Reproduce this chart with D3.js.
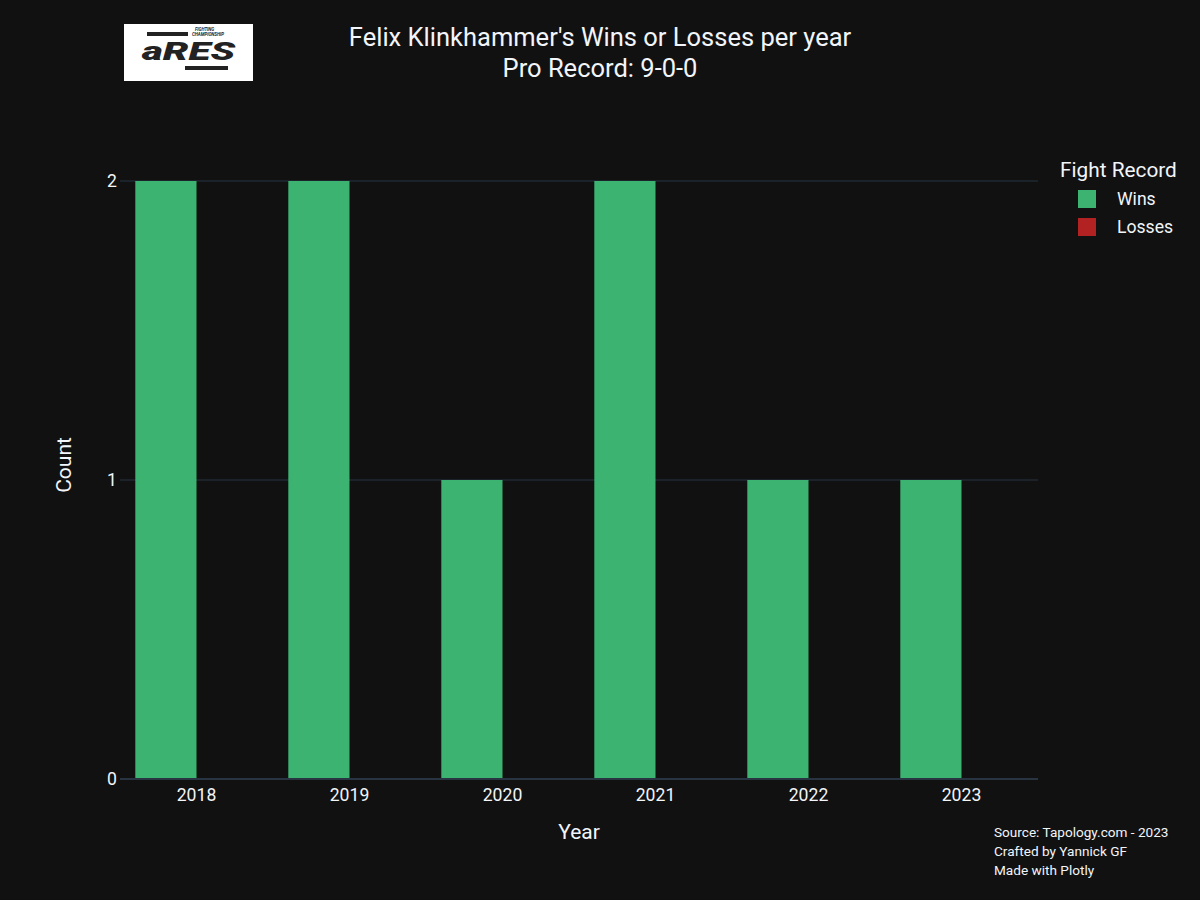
<!DOCTYPE html>
<html><head><meta charset="utf-8">
<script src="https://cdn.jsdelivr.net/npm/d3@7"></script>
<style>body{margin:0;background:#111111;}svg{display:block;font-family:Roboto,"Open Sans",sans-serif;}</style>
</head><body>
<svg id="c" width="1200" height="900"></svg>
<script>
const years = ["2018","2019","2020","2021","2022","2023"];
const wins = [2,2,1,2,1,1];
const losses = [0,0,0,0,0,0];
const seriesNames = ["Wins","Losses"];
const seriesColors = ["#3cb371","#b22222"];
const yTicks = [0,1,2];

const svg = d3.select("#c");
svg.append("rect").attr("width",1200).attr("height",900).attr("fill","#111111");

const m = {l:120, r:1038, t:181, b:779};
const x = d3.scaleBand().domain(years).range([m.l, m.r]).paddingInner(0.2).paddingOuter(0.1);
const xs = d3.scaleBand().domain(seriesNames).range([0, x.bandwidth()]);
const y = d3.scaleLinear().domain([0,2]).range([m.b, m.t]);
const txt = "#f2f5fa";

// grid
svg.append("g").selectAll("line").data(yTicks.filter(d=>d!==0)).join("line")
  .attr("x1",m.l).attr("x2",m.r).attr("y1",d=>y(d)).attr("y2",d=>y(d))
  .attr("stroke","#283442").attr("stroke-width",1);

// bars
const data = [];
years.forEach((yr,i)=>{ data.push({yr, s:"Wins", v:wins[i], c:seriesColors[0]}); data.push({yr, s:"Losses", v:losses[i], c:seriesColors[1]}); });
svg.append("g").selectAll("rect").data(data).join("rect")
  .attr("x",d=>x(d.yr)+xs(d.s)).attr("width",xs.bandwidth())
  .attr("y",d=>y(d.v)).attr("height",d=>y(0)-y(d.v)).attr("fill",d=>d.c);

// zero line
svg.append("line").attr("x1",m.l).attr("x2",m.r).attr("y1",y(0)).attr("y2",y(0))
  .attr("stroke","#283442").attr("stroke-width",2);

// y tick labels
svg.append("g").selectAll("text").data(yTicks).join("text")
  .attr("x",m.l-3).attr("y",d=>y(d)).attr("dy","0.36em").attr("text-anchor","end")
  .attr("fill",txt).attr("font-size",17.6).text(d=>d);

// x tick labels
svg.append("g").selectAll("text").data(years).join("text")
  .attr("x",d=>x(d)+x.bandwidth()/2).attr("y",801).attr("text-anchor","middle")
  .attr("fill",txt).attr("font-size",17.6).text(d=>d);

// axis titles
svg.append("text").attr("x",579).attr("y",839).attr("text-anchor","middle").attr("fill",txt).attr("font-size",21).text("Year");
svg.append("text").attr("transform","translate(71,465) rotate(-90)").attr("text-anchor","middle").attr("fill",txt).attr("font-size",21).text("Count");

// title
svg.append("text").attr("x",600).attr("y",46).attr("text-anchor","middle").attr("fill",txt).attr("font-size",25.5).text("Felix Klinkhammer's Wins or Losses per year");
svg.append("text").attr("x",600).attr("y",77).attr("text-anchor","middle").attr("fill",txt).attr("font-size",25.5).text("Pro Record: 9-0-0");

// legend
svg.append("text").attr("x",1060).attr("y",177).attr("fill",txt).attr("font-size",20.8).text("Fight Record");
const lg = svg.append("g").selectAll("g").data(seriesNames).join("g").attr("transform",(d,i)=>`translate(1078,${190+i*28})`);
lg.append("rect").attr("width",18).attr("height",18).attr("fill",(d,i)=>seriesColors[i]);
lg.append("text").attr("x",39).attr("y",15).attr("fill",txt).attr("font-size",17.6).text(d=>d);

// annotations
["Source: Tapology.com - 2023","Crafted by Yannick GF","Made with Plotly"].forEach((t,i)=>{
  svg.append("text").attr("x",994).attr("y",837+i*19).attr("fill",txt).attr("font-size",13.6).text(t);
});

// logo
const lo = svg.append("g").attr("transform","translate(124,24)");
lo.append("rect").attr("width",129).attr("height",57).attr("fill","#ffffff");
lo.append("rect").attr("x",23).attr("y",8).attr("width",41).attr("height",4).attr("fill","#222");
lo.append("rect").attr("x",61).attr("y",42).attr("width",43).attr("height",4).attr("fill","#222");
lo.append("text").attr("x",71).attr("y",6.5).attr("font-size",4.4).attr("font-weight","bold").attr("font-style","italic").attr("fill","#222").text("FIGHTING");
lo.append("text").attr("x",68).attr("y",12).attr("font-size",4.4).attr("font-weight","bold").attr("font-style","italic").attr("fill","#222").text("CHAMPIONSHIP");
lo.append("text").attr("x",18).attr("y",36).attr("font-size",25).attr("font-weight","900").attr("font-style","italic").attr("fill","#222")
  .attr("textLength",93).attr("lengthAdjust","spacingAndGlyphs").text("aRES");
</script>
</body></html>
